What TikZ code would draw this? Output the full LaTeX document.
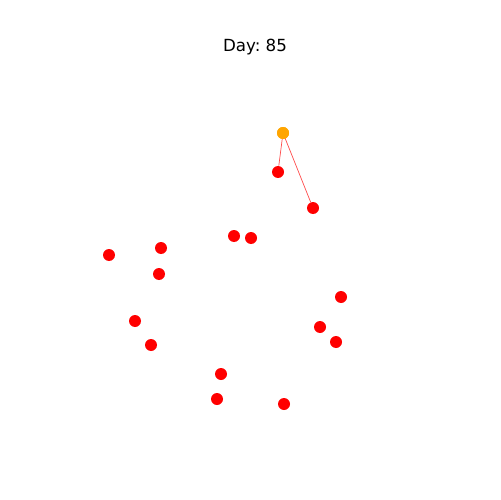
\documentclass[tikz,border=0pt]{standalone}
\usepackage{fontspec}
\setmainfont{DejaVu Sans}
\definecolor{orng}{HTML}{FFA500}
\definecolor{rd}{HTML}{FF0000}
\begin{document}
\begin{tikzpicture}[x=0.02cm,y=-0.02cm,
  rednode/.style={circle,fill=rd,inner sep=0pt,minimum size=0.24cm},
  orangenode/.style={circle,fill=orng,inner sep=0pt,minimum size=0.24cm},
  edge/.style={draw=rd!70,line width=0.4pt}]
\useasboundingbox (0,0) rectangle (500,500);
\node[font=\fontsize{9.5}{11}\selectfont] (title) at (255,47) {Day:~85};
\node[orangenode] (o) at (283,133) {};
\node[rednode] (a) at (278,172) {};
\node[rednode] (b) at (313,208) {};
\node[rednode] (c) at (234,236) {};
\node[rednode] (d) at (251,238) {};
\node[rednode] (e) at (109,255) {};
\node[rednode] (f) at (161,248) {};
\node[rednode] (g) at (159,274) {};
\node[rednode] (h) at (341,297) {};
\node[rednode] (i) at (320,327) {};
\node[rednode] (j) at (336,342) {};
\node[rednode] (k) at (135,321) {};
\node[rednode] (l) at (151,345) {};
\node[rednode] (m) at (221,374) {};
\node[rednode] (n) at (217,399) {};
\node[rednode] (p) at (284,404) {};
\draw[edge] (o.center) -- (a);
\draw[edge] (o.center) -- (b);
\node[orangenode] at (o) {};
\end{tikzpicture}
\end{document}
